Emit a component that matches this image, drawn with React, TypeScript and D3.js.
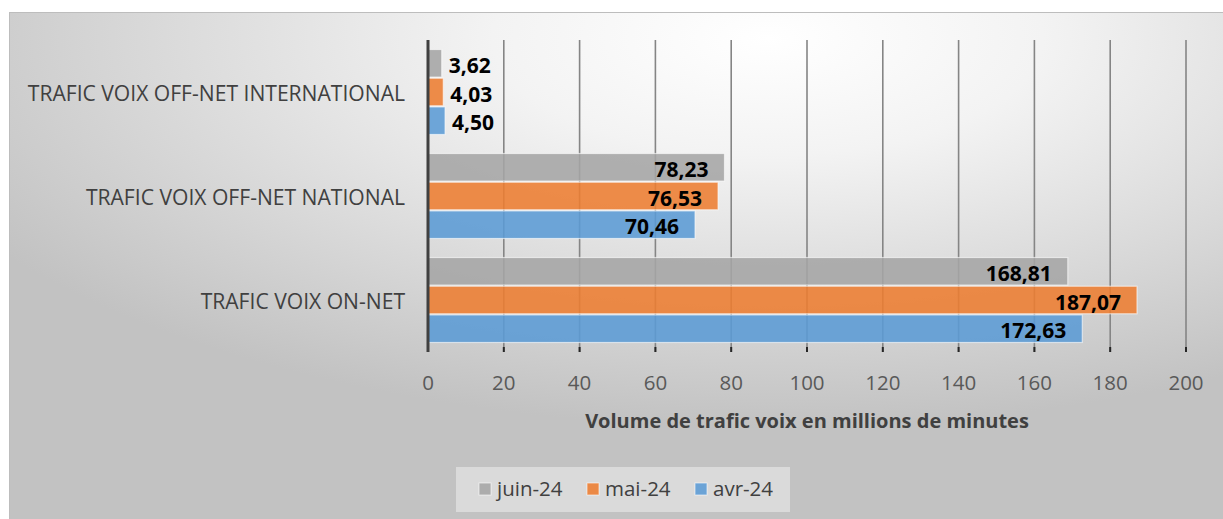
import React from 'react';
import * as d3 from 'd3';

const categories = [
  'TRAFIC VOIX OFF-NET INTERNATIONAL',
  'TRAFIC VOIX OFF-NET NATIONAL',
  'TRAFIC VOIX ON-NET',
];
const seriesNames = ['juin-24', 'mai-24', 'avr-24'];
const seriesColors = ['#a5a5a5', '#ed7d31', '#5b9bd5'];
const juin24 = [3.62, 78.23, 168.81];
const mai24 = [4.03, 76.53, 187.07];
const avr24 = [4.5, 70.46, 172.63];
const xTicks = [0, 20, 40, 60, 80, 100, 120, 140, 160, 180, 200];

const W = 1223;
const H = 519;
const FONT = "'Open Sans', 'Noto Sans', sans-serif";

const values = [juin24, mai24, avr24];
const fmt = (v: number) => d3.format('.2f')(v).replace('.', ',');

export default function App() {
  const x = d3.scaleLinear().domain([0, 200]).range([428, 1186]);
  const y = d3.scaleBand<string>().domain(categories).range([40, 352])
    .paddingInner(0.183).paddingOuter(0.0915);
  const ySub = d3.scaleBand<string>().domain(seriesNames).range([0, y.bandwidth()]).paddingInner(0.04);
  const [y0, y1] = y.range();

  const bars = categories.flatMap((c, ci) =>
    seriesNames.map((s, si) => ({ c, s, si, v: values[si][ci] })));

  // legend layout
  const legendItems = seriesNames.map((s, i) => ({ s, i, x: 479 + i * 108 }));

  return (
    <svg width={W} height={H} style={{ position: 'absolute', left: 0, top: 0 }} fontFamily={FONT}>
      <defs>
        <radialGradient id="bg" cx="0.62" cy="0.05" r="0.75" fx="0.62" fy="0.05">
          <stop offset="0" stopColor="#ffffff" />
          <stop offset="0.3" stopColor="#f3f3f3" />
          <stop offset="1" stopColor="#c2c2c2" />
        </radialGradient>
      </defs>
      <rect x={0} y={0} width={W} height={H} fill="#ffffff" />
      <rect x={9.5} y={12.5} width={W} height={H} fill="url(#bg)" stroke="#bdbdbd" strokeWidth={1} />

      {/* gridlines */}
      {xTicks.slice(1).map(t => (
        <line key={t} x1={x(t)} x2={x(t)} y1={y0} y2={y1} stroke="#858585" strokeWidth={1.6} />
      ))}

      {/* bars */}
      {bars.map(b => (
        <rect key={b.c + b.s}
          x={x(0)} y={(y(b.c) as number) + (ySub(b.s) as number)}
          width={x(b.v) - x(0)} height={ySub.bandwidth()}
          fill={seriesColors[b.si]} fillOpacity={0.88}
          stroke="#ffffff" strokeOpacity={0.6} strokeWidth={1.2} />
      ))}

      {/* value labels */}
      {bars.map(b => {
        const inside = x(b.v) - x(0) > 60;
        const cy = (y(b.c) as number) + (ySub(b.s) as number) + ySub.bandwidth() / 2;
        return (
          <text key={'l' + b.c + b.s}
            x={inside ? x(b.v) - 16 : x(b.v) + 7} y={cy + 2} dy="0.36em"
            textAnchor={inside ? 'end' : 'start'}
            fontSize={21} fontWeight={700} fill="#000000">{fmt(b.v)}</text>
        );
      })}

      {/* axis */}
      <line x1={x(0)} x2={x(0)} y1={y0} y2={y1} stroke="#404040" strokeWidth={3} />
      {xTicks.slice(1).map(t => (
        <line key={'t' + t} x1={x(t)} x2={x(t)} y1={y1 - 5} y2={y1} stroke="#262626" strokeWidth={2} />
      ))}
      {xTicks.map(t => (
        <text key={'tl' + t} x={x(t)} y={383} dy="0.36em" textAnchor="middle"
          fontSize={20.5} fill="#595959">{t}</text>
      ))}
      <text x={807} y={421} dy="0.36em" textAnchor="middle" fontSize={20} fontWeight={700} fill="#404040">
        Volume de trafic voix en millions de minutes
      </text>

      {/* category labels */}
      {categories.map(c => (
        <text key={c} x={405} y={(y(c) as number) + y.bandwidth() / 2 + 1} dy="0.36em" textAnchor="end"
          fontSize={21.1} fill="#404040">{c}</text>
      ))}

      {/* legend */}
      <rect x={456} y={467} width={334} height={45} fill="#f2f2f2" fillOpacity={0.5} />
      {legendItems.map(l => (
        <g key={l.s}>
          <rect x={l.x} y={483} width={12} height={12} fill={seriesColors[l.i]} fillOpacity={0.88}
            stroke="#ffffff" strokeOpacity={0.6} />
          <text x={l.x + 18} y={489} dy="0.36em" fontSize={20.5} fill="#404040">{l.s}</text>
        </g>
      ))}
    </svg>
  );
}
